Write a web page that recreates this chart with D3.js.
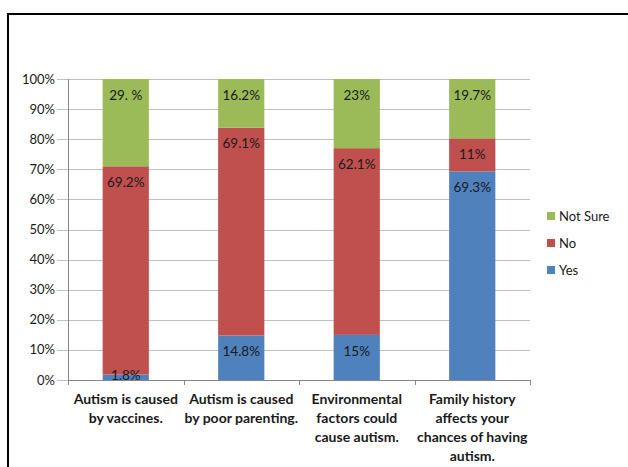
<!DOCTYPE html>
<html lang="en">
<head>
<meta charset="utf-8">
<title>Autism beliefs</title>
<script src="https://d3js.org/d3.v7.min.js"></script>
<style>
  body { margin: 0; background: #fff; }
  text { font-family: Lato, "Liberation Sans", sans-serif; fill: #1a1a1a; }
</style>
</head>
<body>
<div id="chart"></div>
<script>
// chart data
var categories = [
  ["Autism is caused", "by vaccines."],
  ["Autism is caused", "by poor parenting."],
  ["Environmental", "factors could", "cause autism."],
  ["Family history", "affects your", "chances of having", "autism."]
];
var yes = [1.8, 14.8, 15, 69.3];
var no = [69.2, 69.1, 62.1, 11];
var notSure = [29, 16.2, 23, 19.7];
var notSureLabels = ["29. %", "16.2%", "23%", "19.7%"];
var seriesNames = ["Yes", "No", "Not Sure"];
var yTicks = [0, 0.1, 0.2, 0.3, 0.4, 0.5, 0.6, 0.7, 0.8, 0.9, 1];

var colors = {"Yes": "#4F81BD", "No": "#C0504D", "Not Sure": "#9BBB59"};

var width = 628, height = 467;
var svg = d3.select("#chart").append("svg")
  .attr("width", width)
  .attr("height", height);

// outer frame (right and bottom edges fall outside the picture)
svg.append("rect")
  .attr("x", 8).attr("y", 14)
  .attr("width", 640).attr("height", 480)
  .attr("fill", "none")
  .attr("stroke", "#000")
  .attr("stroke-width", 2);

var plot = {left: 68, right: 530, top: 79, bottom: 380};

var x = d3.scaleBand()
  .domain(d3.range(categories.length))
  .range([plot.left, plot.right])
  .paddingInner(0.6)
  .paddingOuter(0.3);

var y = d3.scaleLinear()
  .domain([0, 1])
  .range([plot.bottom, plot.top]);

// gridlines
svg.append("g")
  .selectAll("line")
  .data(yTicks)
  .join("line")
  .attr("x1", plot.left - 11)
  .attr("x2", plot.right)
  .attr("y1", d => Math.round(y(d)) + 0.5)
  .attr("y2", d => Math.round(y(d)) + 0.5)
  .attr("stroke", "#BFBFBF");

// y labels
svg.append("g")
  .selectAll("text")
  .data(yTicks)
  .join("text")
  .attr("x", plot.left - 13)
  .attr("y", d => y(d))
  .attr("dy", "0.35em")
  .attr("text-anchor", "end")
  .style("font-size", "13px")
  .text(d => Math.round(d * 100) + "%");

// stacked rows, normalised to 100%
var rows = categories.map(function(c, i) {
  return {i: i, "Yes": yes[i], "No": no[i], "Not Sure": notSure[i]};
});
var stack = d3.stack().keys(seriesNames).offset(d3.stackOffsetExpand);
var layers = stack(rows);

var labelText = {
  "Yes": yes.map(v => v + "%"),
  "No": no.map(v => v + "%"),
  "Not Sure": notSureLabels
};

var barG = svg.append("g");

layers.forEach(function(layer) {
  barG.append("g")
    .selectAll("rect")
    .data(layer)
    .join("rect")
    .attr("x", d => x(d.data.i))
    .attr("width", x.bandwidth())
    .attr("y", d => y(d[1]))
    .attr("height", d => y(d[0]) - y(d[1]))
    .attr("fill", colors[layer.key]);
});

// x axis line and ticks
svg.append("line")
  .attr("x1", plot.left).attr("x2", plot.right)
  .attr("y1", plot.bottom + 0.5).attr("y2", plot.bottom + 0.5)
  .attr("stroke", "#868686");
svg.append("line")
  .attr("x1", plot.left + 0.5).attr("x2", plot.left + 0.5)
  .attr("y1", plot.top).attr("y2", plot.bottom + 5)
  .attr("stroke", "#868686");

var step = (plot.right - plot.left) / categories.length;
svg.append("g")
  .selectAll("line")
  .data(d3.range(1, categories.length + 1))
  .join("line")
  .attr("x1", d => Math.round(plot.left + d * step) + 0.5)
  .attr("x2", d => Math.round(plot.left + d * step) + 0.5)
  .attr("y1", plot.bottom)
  .attr("y2", plot.bottom + 5)
  .attr("stroke", "#868686");

// data labels, drawn above bars and axis
var labelG = svg.append("g");
layers.forEach(function(layer) {
  var key = layer.key;
  labelG.append("g")
    .selectAll("text")
    .data(layer)
    .join("text")
    .attr("x", d => x(d.data.i) + x.bandwidth() / 2)
    .attr("y", d => Math.min(y(d[1]) + 16, y(d[0]) - 5))
    .attr("dy", "0.35em")
    .attr("text-anchor", "middle")
    .style("font-size", "13.5px")
    .text((d, i) => labelText[key][i]);
});

// category labels
var catG = svg.append("g")
  .selectAll("text")
  .data(categories)
  .join("text")
  .attr("x", (d, i) => x(i) + x.bandwidth() / 2)
  .attr("y", 404)
  .attr("text-anchor", "middle")
  .style("font-size", "14px")
  .style("font-weight", "bold");

catG.selectAll("tspan")
  .data(d => d)
  .join("tspan")
  .attr("x", function() { return d3.select(this.parentNode).attr("x"); })
  .attr("dy", (d, i) => i === 0 ? 0 : 19)
  .text(d => d);

// legend
var legendNames = ["Not Sure", "No", "Yes"];
var legend = svg.append("g")
  .selectAll("g")
  .data(legendNames)
  .join("g")
  .attr("transform", (d, i) => "translate(547," + (216 + i * 27) + ")");

legend.append("rect")
  .attr("x", 0).attr("y", -4)
  .attr("width", 8).attr("height", 8)
  .attr("fill", d => colors[d]);

legend.append("text")
  .attr("x", 12)
  .attr("y", 0)
  .attr("dy", "0.35em")
  .style("font-size", "13px")
  .text(d => d);
</script>
</body>
</html>
